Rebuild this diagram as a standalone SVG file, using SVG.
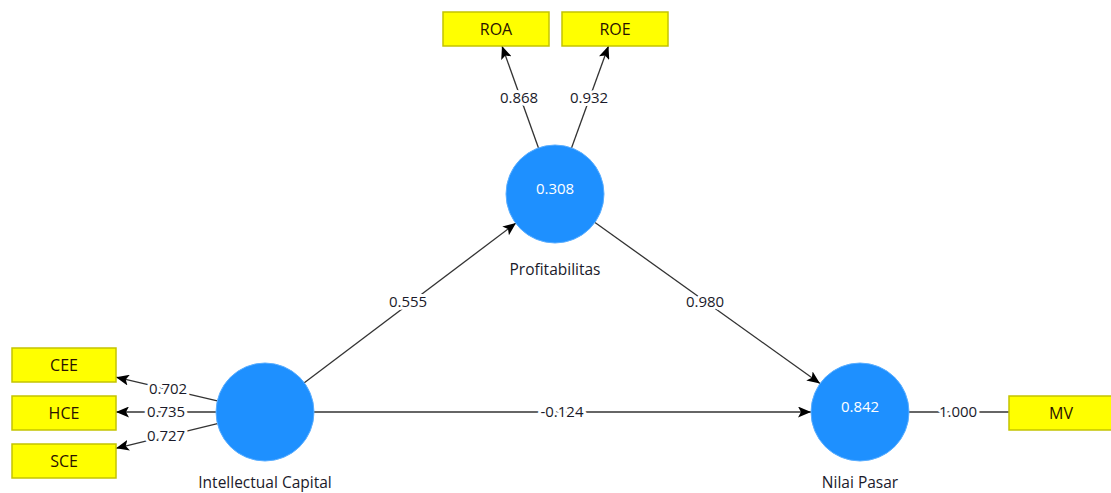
<svg xmlns="http://www.w3.org/2000/svg" width="1111" height="493" viewBox="0 0 1111 493">
<defs>
<style>
.box{fill:#ffff00;stroke:#c4c400;stroke-width:1.5}
.boxt{font-family:"Open Sans","Liberation Sans",sans-serif;font-size:16px;fill:#2a1200;text-anchor:middle}
.lv{fill:#1e90ff;stroke:#5aaeff;stroke-width:1}
.lvv{font-family:"Open Sans","Liberation Sans",sans-serif;font-size:15px;fill:#ffffff;text-anchor:middle}
.lvn{font-family:"Open Sans","Liberation Sans",sans-serif;font-size:15.5px;fill:#1a1a2a;text-anchor:middle}
.edge{stroke:#333333;stroke-width:1.3;fill:none}
.lbl{font-family:"Open Sans","Liberation Sans",sans-serif;font-size:15px;fill:#1a1a2a;text-anchor:middle;paint-order:stroke;stroke:#ffffff;stroke-width:6px;stroke-linejoin:round}
</style>
<marker id="arr" viewBox="0 0 13 11" refX="13" refY="5.5" markerWidth="13" markerHeight="11" markerUnits="userSpaceOnUse" orient="auto">
<path d="M0,0 L13,5.5 L0,11 L3,5.5 Z" fill="#000000"/>
</marker>
</defs>
<g id="connectors">
<line class="edge" x1="304" y1="383" x2="516" y2="223" marker-end="url(#arr)"/>
<line class="edge" x1="595" y1="222.5" x2="820" y2="383.5" marker-end="url(#arr)"/>
<line class="edge" x1="314" y1="412" x2="811" y2="412" marker-end="url(#arr)"/>
<line class="edge" x1="538.5" y1="148" x2="502" y2="46" marker-end="url(#arr)"/>
<line class="edge" x1="571.5" y1="148" x2="608.5" y2="46" marker-end="url(#arr)"/>
<line class="edge" x1="217.3" y1="400.8" x2="116" y2="377.2" marker-end="url(#arr)"/>
<line class="edge" x1="216" y1="412" x2="116" y2="412" marker-end="url(#arr)"/>
<line class="edge" x1="217.4" y1="423.6" x2="116" y2="448.3" marker-end="url(#arr)"/>
<line class="edge" x1="909" y1="412" x2="1009" y2="412"/>
<text class="lbl" x="408" y="307">0.555</text>
<text class="lbl" x="705" y="307">0.980</text>
<text class="lbl" x="562" y="417">-0.124</text>
<text class="lbl" x="519" y="103">0.868</text>
<text class="lbl" x="589" y="103">0.932</text>
<text class="lbl" x="168" y="394">0.702</text>
<text class="lbl" x="166" y="417">0.735</text>
<text class="lbl" x="166" y="441">0.727</text>
<text class="lbl" x="958" y="417">1.000</text>
</g>
<g id="node-profitabilitas">
<circle class="lv" cx="555" cy="194" r="49"/>
<text class="lvv" x="555" y="194">0.308</text>
<text class="lvn" x="555" y="275">Profitabilitas</text>
</g>
<g id="node-intellectual-capital">
<circle class="lv" cx="265" cy="412" r="49"/>
<text class="lvn" x="265" y="488">Intellectual Capital</text>
</g>
<g id="node-nilai-pasar">
<circle class="lv" cx="860" cy="412" r="49"/>
<text class="lvv" x="860" y="412">0.842</text>
<text class="lvn" x="860" y="488">Nilai Pasar</text>
</g>
<g id="node-roa">
<rect class="box" x="443" y="12" width="106" height="34"/>
<text class="boxt" x="496" y="35">ROA</text>
</g>
<g id="node-roe">
<rect class="box" x="562" y="12" width="106" height="34"/>
<text class="boxt" x="615" y="35">ROE</text>
</g>
<g id="node-cee">
<rect class="box" x="12" y="348" width="104" height="34"/>
<text class="boxt" x="64" y="371">CEE</text>
</g>
<g id="node-hce">
<rect class="box" x="12" y="396" width="104" height="34"/>
<text class="boxt" x="64" y="419">HCE</text>
</g>
<g id="node-sce">
<rect class="box" x="12" y="444" width="104" height="34"/>
<text class="boxt" x="64" y="467">SCE</text>
</g>
<g id="node-mv">
<rect class="box" x="1009" y="396" width="106" height="34"/>
<text class="boxt" x="1061" y="419">MV</text>
</g>
</svg>
